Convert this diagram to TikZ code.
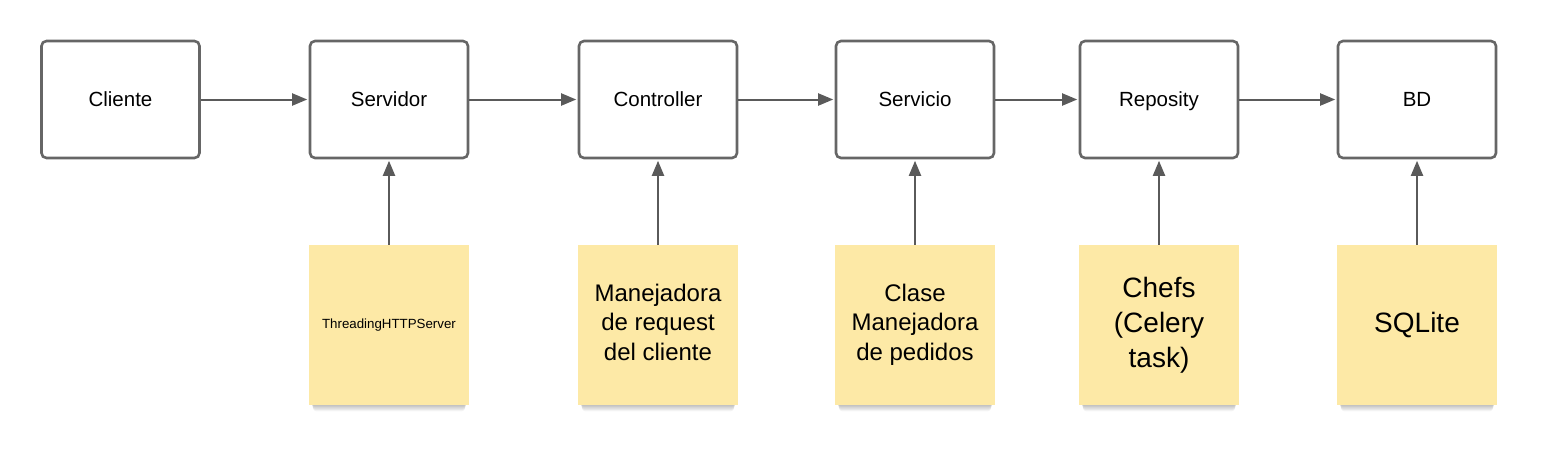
\documentclass[tikz,border=0pt]{standalone}
\usepackage{fontspec}
\setmainfont{Liberation Sans}
\usetikzlibrary{arrows.meta}
\definecolor{boxgray}{HTML}{666666}
\definecolor{arrowgray}{HTML}{5A5A5A}
\definecolor{notey}{HTML}{FDE9A6}
\newcommand{\notelines}[2]{\raisebox{#1}{\begin{tabular}{@{}c@{}}#2\end{tabular}}}
\begin{document}
\begin{tikzpicture}[x=1pt,y=-1pt,
  procbox/.style={draw=boxgray, line width=2.6pt, rounded corners=5pt, fill=white,
    minimum width=158pt, minimum height=117pt, inner sep=0pt,
    text height=14.7pt, text depth=0pt,
    font=\fontsize{20.5}{24}\selectfont, text=black},
  notebox/.style={fill=notey, minimum width=160pt, minimum height=160pt, inner sep=0pt,
    align=center, text=black},
  conn/.style={draw=arrowgray, line width=2pt, -{Triangle[length=15pt,width=12pt]}, shorten >=1.5pt}
]
\useasboundingbox (0,0) rectangle (1554,464);
\fill[white] (0,0) rectangle (1554,464);

% boxes
\node[procbox] (cli) at (120.5,99.5) {Cliente};
\node[procbox] (srv) at (389,99.5) {Servidor};
\node[procbox] (ctl) at (658,99.5) {Controller};
\node[procbox] (svc) at (915,99.5) {Servicio};
\node[procbox] (rep) at (1159,99.5) {Reposity};
\node[procbox] (bd)  at (1417,99.5) {BD};

% note shadows
\foreach \cx in {389,658,915,1159,1417}{
  \foreach \i in {1,...,7}{
    \fill[black, opacity=0.035, rounded corners=3pt] (\cx-78+\i*0.3,245+\i) rectangle (\cx+78-\i*0.3,405+\i*0.9);
  }
}

% notes
\node[notebox, font=\fontsize{13.3}{16}\selectfont] (n1) at (389,325) {\raisebox{3pt}{ThreadingHTTPServer}};
\node[notebox, font=\fontsize{24}{29.5}\selectfont] (n2) at (658,325) {\notelines{1pt}{Manejadora\\de request\\del cliente}};
\node[notebox, font=\fontsize{24}{29.5}\selectfont] (n3) at (915,325) {\notelines{1pt}{Clase\\Manejadora\\de pedidos}};
\node[notebox, font=\fontsize{28}{35}\selectfont] (n4) at (1159,325) {\notelines{2pt}{Chefs\\(Celery\\task)}};
\node[notebox, font=\fontsize{28}{34}\selectfont] (n5) at (1417,325) {\raisebox{4pt}{SQLite}};

% horizontal connectors
\draw[conn] (cli.east) -- (srv.west);
\draw[conn] (srv.east) -- (ctl.west);
\draw[conn] (ctl.east) -- (svc.west);
\draw[conn] (svc.east) -- (rep.west);
\draw[conn] (rep.east) -- (bd.west);

% vertical connectors
\draw[conn] (n1.north) -- (srv.south);
\draw[conn] (n2.north) -- (ctl.south);
\draw[conn] (n3.north) -- (svc.south);
\draw[conn] (n4.north) -- (rep.south);
\draw[conn] (n5.north) -- (bd.south);
\end{tikzpicture}
\end{document}
